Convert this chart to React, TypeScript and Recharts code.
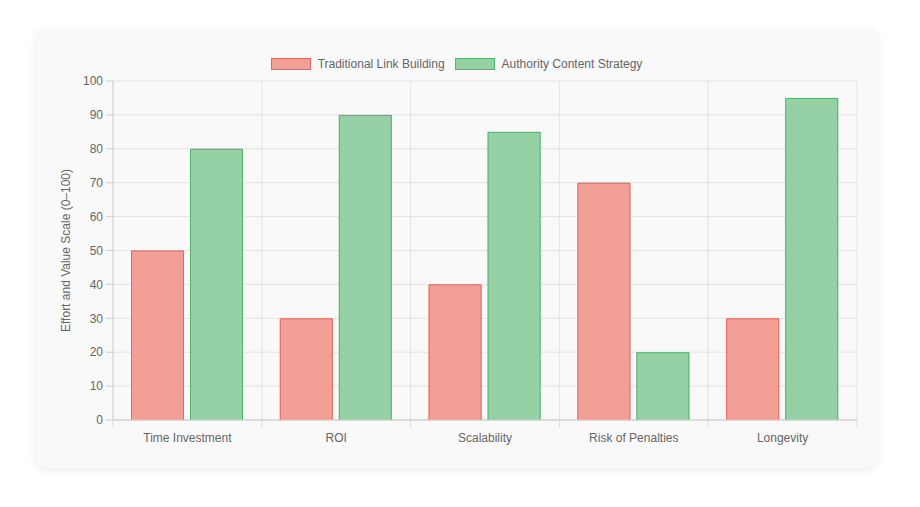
import React from 'react';
import { BarChart, Bar, XAxis, YAxis, CartesianGrid, Legend } from 'recharts';

const categories = ['Time Investment', 'ROI', 'Scalability', 'Risk of Penalties', 'Longevity'];
const traditional = [50, 30, 40, 70, 30];
const authority = [80, 90, 85, 20, 95];
const yTicks = [0, 10, 20, 30, 40, 50, 60, 70, 80, 90, 100];

const seriesNames = ['Traditional Link Building', 'Authority Content Strategy'];
const fills = ['#f19f97', '#96d1a6'];
const strokes = ['#e8675b', '#52b56f'];

const data = categories.map((c, i) => ({ name: c, traditional: traditional[i], authority: authority[i] }));

const W = 841;
const H = 440;
const FONT = '"Liberation Sans", Arial, Helvetica, sans-serif';
const TEXT = '#666';

const makeShape = (stroke: string) => (props: any) => {
  const { x, y, width, height, fill } = props;
  if (width == null || height == null) return null;
  return (
    <g>
      <rect x={x} y={y} width={width} height={height} fill={fill} />
      <path
        d={`M${x + 0.5},${y + height} V${y + 0.5} H${x + width - 0.5} V${y + height}`}
        stroke={stroke}
        strokeWidth={1}
        fill="none"
      />
    </g>
  );
};

const XTick = (props: any) => {
  const { x, y, payload, index } = props;
  const half = payload && payload.offset ? payload.offset : 74.4;
  const axisY = y - 13;
  return (
    <g>
      <line x1={x - half} x2={x - half} y1={axisY} y2={axisY + 7} stroke="#d9d9d9" />
      {index === categories.length - 1 && (
        <line x1={x + half} x2={x + half} y1={axisY} y2={axisY + 7} stroke="#d9d9d9" />
      )}
      <text x={x} y={y} dy="0.71em" textAnchor="middle" fill={TEXT} fontSize={12} fontFamily={FONT}>
        {payload.value}
      </text>
    </g>
  );
};

const LegendContent = () => (
  <div style={{ height: 27, display: 'flex', justifyContent: 'center', alignItems: 'flex-start' }}>
    {seriesNames.map((n, i) => (
      <div key={n} style={{ display: 'flex', alignItems: 'center', height: 20, marginRight: i === 0 ? 10 : 0 }}>
        <span
          style={{
            display: 'inline-block',
            boxSizing: 'border-box',
            width: 40,
            height: 12,
            background: fills[i],
            border: `1px solid ${strokes[i]}`,
            marginRight: 7,
          }}
        />
        <span style={{ fontSize: 12, color: TEXT, fontFamily: FONT }}>{n}</span>
      </div>
    ))}
  </div>
);

export default function App() {
  return (
    <div
      style={{
        position: 'absolute',
        left: 36,
        top: 28,
        width: W,
        height: H,
        background: '#f9f9f9',
        borderRadius: 10,
        boxShadow: '0 2px 10px rgba(0,0,0,0.08)',
      }}
    >
      <BarChart
        width={W}
        height={H}
        data={data}
        margin={{ top: 26, right: 20, bottom: 18, left: 0 }}
        barCategoryGap={18}
        barGap={6}
      >
        <CartesianGrid
          stroke="#e3e3e3"
          verticalCoordinatesGenerator={({ offset }: any) =>
            categories.map((_, i) => offset.left + ((i + 1) * offset.width) / categories.length)
          }
        />
        <Legend verticalAlign="top" content={LegendContent} wrapperStyle={{ left: 0, width: W }} />
        <XAxis
          dataKey="name"
          height={30}
          tickSize={7}
          tickMargin={6}
          tickLine={false}
          tick={<XTick />}
          axisLine={{ stroke: '#c8c8c8' }}
          interval={0}
        />
        <YAxis
          width={77}
          domain={[0, 100]}
          ticks={yTicks}
          interval={0}
          tickSize={7}
          tickMargin={3}
          tick={{ fill: TEXT, fontSize: 12, fontFamily: FONT }}
          tickLine={{ stroke: '#d0d0d0' }}
          axisLine={{ stroke: '#c8c8c8' }}
          label={{
            value: 'Effort and Value Scale (0–100)',
            angle: -90,
            position: 'insideLeft',
            offset: 30,
            style: { fill: TEXT, fontSize: 12, fontFamily: FONT, textAnchor: 'middle' },
          }}
        />
        <Bar
          dataKey="traditional"
          name={seriesNames[0]}
          fill={fills[0]}
          shape={makeShape(strokes[0])}
          isAnimationActive={false}
        />
        <Bar
          dataKey="authority"
          name={seriesNames[1]}
          fill={fills[1]}
          shape={makeShape(strokes[1])}
          isAnimationActive={false}
        />
      </BarChart>
    </div>
  );
}
